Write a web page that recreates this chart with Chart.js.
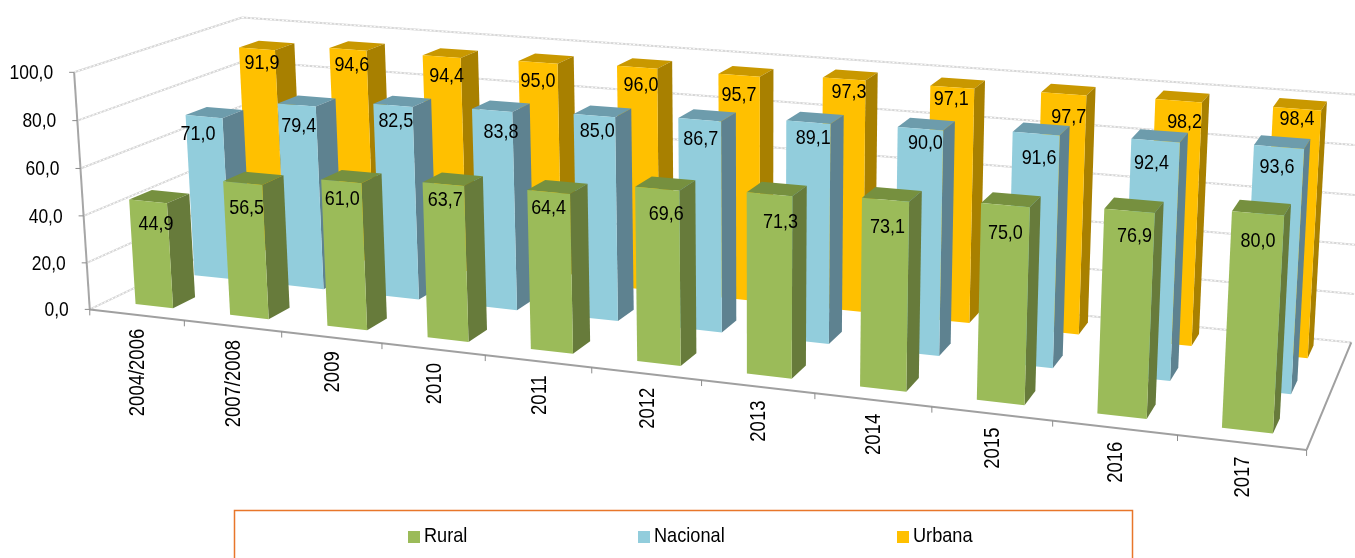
<!DOCTYPE html>
<html><head><meta charset="utf-8">
<style>html,body{margin:0;padding:0;background:#fff;overflow:hidden}canvas{display:block}</style>
<script src="https://cdn.jsdelivr.net/npm/chart.js@4/dist/chart.umd.min.js"></script>
</head><body>
<canvas id="c" width="1355" height="558"></canvas>
<script>
const categories = ['2004/2006','2007/2008','2009','2010','2011','2012','2013','2014','2015','2016','2017'];
const rural    = [44.9,56.5,61.0,63.7,64.4,69.6,71.3,73.1,75.0,76.9,80.0];
const nacional = [71.0,79.4,82.5,83.8,85.0,86.7,89.1,90.0,91.6,92.4,93.6];
const urbana   = [91.9,94.6,94.4,95.0,96.0,95.7,97.3,97.1,97.7,98.2,98.4];
const seriesNames = ['Rural','Nacional','Urbana'];

// colours: front, side, top
const palette = [
  ['#9BBB59','#677B3B','#76903F'],
  ['#92CDDC','#5E8290','#6D9CAC'],
  ['#FFC000','#A88000','#C99800']
];
// where each series row sits on the floor (0 front .. 1 back)
const rowFront = [0.10,0.45,0.80];
const rowDepth = 0.13;
// value labels were placed by hand in the original: offset from each bar's top
const labelOffset = [[4,25],[0,18],[4,15]];
const labelNudge = [
  [[4,-2],[0,0],[-3,-7],[-2,-9],[-4,-9],[5,1],[7,3],[-2,2],[-4,3],[1,0],[-4,3]],
  [[-6,0],[2,3],[3,-2],[9,4],[3,-2],[1,1],[5,-2],[5,-4],[3,7],[-4,4],[-2,2]],
  [[1,-1],[0,1],[1,4],[-4,4],[0,3],[-4,5],[1,-2],[-5,-3],[1,8],[2,6],[-4,-4]]
];

// view calibration: box coordinates (along, depth, height) -> picture
const s0=0.3/11;
const view = [
  [0,0,0,89,308],[1,0,0,1307,450],[1,1,0,1352,340],[0,1,0,252,235],
  [0,1,1,245,15],[0,0,1,73,72],[1,1,1,1365,92],
  [1/11,0,0,185,319],[2/11,0,0,282,331],[3/11,0,0,383,343],[4/11,0,0,485,355],
  [9/11,0,0,1051,421],[10/11,0,0,1177,435],
  [10/11+s0,0.10,0.80,1233,213],[10/11+s0,0.10,0,1222,428],
  [10/11+s0,0.80,0.984,1273,108],[10.7/11,0.80,0,1308,359],
  [s0,0.10,0.449,130,200],[s0,0.10,0,135,303],[s0,0.80,0.919,237,48],
  [5/11+s0,0.10,0.696,637,187],[5/11+s0,0.10,0,637,362],
  [5/11+s0,0.45,0.867,678,119],[5.7/11,0.45,0,722,332],[5/11+s0,0.80,0.957,717,76]
];
function solveView(pts){
  const n=11, A=Array.from({length:n},()=>new Array(n+1).fill(0));
  const add=(r,b)=>{for(let i=0;i<n;i++){for(let j=0;j<n;j++)A[i][j]+=r[i]*r[j];A[i][n]+=r[i]*b;}};
  for(const [u,d,h,x,y] of pts){
    add([u,d,h,1,0,0,0,0,-x*u,-x*d,-x*h],x);
    add([0,0,0,0,u,d,h,1,-y*u,-y*d,-y*h],y);
  }
  for(let i=0;i<n;i++){
    let p=i;for(let r=i+1;r<n;r++)if(Math.abs(A[r][i])>Math.abs(A[p][i]))p=r;
    [A[i],A[p]]=[A[p],A[i]];
    for(let r=0;r<n;r++){if(r===i)continue;const f=A[r][i]/A[i][i];for(let c=i;c<=n;c++)A[r][c]-=f*A[i][c];}
  }
  return A.map((row,i)=>row[n]/row[i]);
}
const M=solveView(view);
function P(u,d,h){
  const w=M[8]*u+M[9]*d+M[10]*h+1;
  return [(M[0]*u+M[1]*d+M[2]*h+M[3])/w,(M[4]*u+M[5]*d+M[6]*h+M[7])/w];
}
const FONT='"Liberation Sans",Arial,sans-serif';
const fmt=v=>v.toFixed(1).replace('.',',');

function line(ctx,a,b,color,w,dash){
  ctx.save();ctx.strokeStyle=color;ctx.lineWidth=w;if(dash)ctx.setLineDash(dash);
  ctx.beginPath();ctx.moveTo(a[0],a[1]);ctx.lineTo(b[0],b[1]);ctx.stroke();ctx.restore();
}
function grid(ctx,a,b){line(ctx,a,b,'#d6d6d6',2);line(ctx,a,b,'#ffffff',1,[2,2]);}
function face(ctx,pts,color){
  ctx.fillStyle=color;ctx.beginPath();
  pts.forEach((p,i)=>i?ctx.lineTo(p[0],p[1]):ctx.moveTo(p[0],p[1]));
  ctx.closePath();ctx.fill();
}
// narrow text: the reference's lettering is squeezed along its run
function label(ctx,str,x,y,align,squeeze,angle,size){
  ctx.save();ctx.translate(x,y);if(angle)ctx.rotate(angle);ctx.scale(squeeze,1);
  ctx.font=(size||21)+'px '+FONT;ctx.fillStyle='#000';ctx.textAlign=align;ctx.textBaseline='middle';
  ctx.fillText(str,0,0);ctx.restore();
}

const box3d={
  id:'box3d',
  beforeDatasetsDraw(chart){
    const ctx=chart.ctx,area=chart.chartArea,xs=chart.scales.x,ys=chart.scales.y;
    const U=px=>(px-area.left)/area.width, H=px=>(ys.bottom-px)/(ys.bottom-ys.top);
    // walls and floor
    ys.ticks.forEach(t=>{
      const h=H(ys.getPixelForValue(t.value));
      grid(ctx,P(0,0,h),P(0,1,h));grid(ctx,P(0,1,h),P(1,1,h));
    });
    line(ctx,P(0,0,0),P(0,0,1),'#a6a6a6',2);
    line(ctx,P(0,0,0),P(1,0,0),'#a0a0a0',2);
    line(ctx,P(1,0,0),P(1,1,0),'#a0a0a0',2);
    // ticks and axis labels
    ys.ticks.forEach(t=>{
      const p=P(0,0,H(ys.getPixelForValue(t.value)));
      line(ctx,[p[0]-5,p[1]],p,'#8c8c8c',1);
      label(ctx,t.label,p[0]-21,p[1]+1,'right',0.83);
    });
    for(let i=0;i<=categories.length;i++){
      const p=P(i/categories.length,0,0);line(ctx,p,[p[0],p[1]+6],'#8c8c8c',1);
    }
    categories.forEach((c,i)=>{
      const p=P(U(xs.getPixelForValue(i)),0,0);
      label(ctx,c,p[0]+1.5,p[1]+14,'right',0.84,-Math.PI/2,22);
    });
    // bars, back row first
    for(let s=chart.data.datasets.length-1;s>=0;s--){
      const d0=rowFront[s],d1=d0+rowDepth,[cf,cs,ct]=palette[s];
      chart.getDatasetMeta(s).data.forEach(el=>{
        const u0=U(el.x-el.width/2),u1=U(el.x+el.width/2),h=H(el.y),b=H(el.base);
        face(ctx,[P(u0,d0,h),P(u1,d0,h),P(u1,d1,h),P(u0,d1,h)],ct);
        face(ctx,[P(u1,d0,b),P(u1,d1,b),P(u1,d1,h),P(u1,d0,h)],cs);
        face(ctx,[P(u0,d0,b),P(u1,d0,b),P(u1,d0,h),P(u0,d0,h)],cf);
      });
    }
    // data labels
    chart.data.datasets.forEach((ds,s)=>{
      chart.getDatasetMeta(s).data.forEach((el,i)=>{
        const p=P(U(el.x),rowFront[s],H(el.y));
        label(ctx,fmt(ds.data[i]),p[0]+labelOffset[s][0]+labelNudge[s][i][0],p[1]+labelOffset[s][1]+labelNudge[s][i][1],'center',0.855);
      });
    });
    // legend
    ctx.strokeStyle='#E8762A';ctx.lineWidth=1.5;ctx.strokeRect(234.5,510.5,898,80);
    const lx=[408,638,897];
    chart.data.datasets.forEach((ds,s)=>{
      ctx.fillStyle=palette[s][0];ctx.fillRect(lx[s],531,12,12);
      label(ctx,ds.label,lx[s]+16,536,'left',0.865);
    });
    return false;
  }
};

new Chart(document.getElementById('c'),{
  type:'bar',
  data:{labels:categories,datasets:[
    {label:seriesNames[0],data:rural,backgroundColor:palette[0][0]},
    {label:seriesNames[1],data:nacional,backgroundColor:palette[1][0]},
    {label:seriesNames[2],data:urbana,backgroundColor:palette[2][0]}
  ]},
  options:{
    responsive:false,animation:false,
    datasets:{bar:{grouped:false,barPercentage:0.4,categoryPercentage:1}},
    layout:{padding:0},
    plugins:{legend:{display:false},tooltip:{enabled:false}},
    scales:{
      x:{display:false},
      y:{display:false,min:0,max:100,ticks:{stepSize:20,callback:v=>fmt(v)}}
    }
  },
  plugins:[box3d]
});
</script>
</body></html>
